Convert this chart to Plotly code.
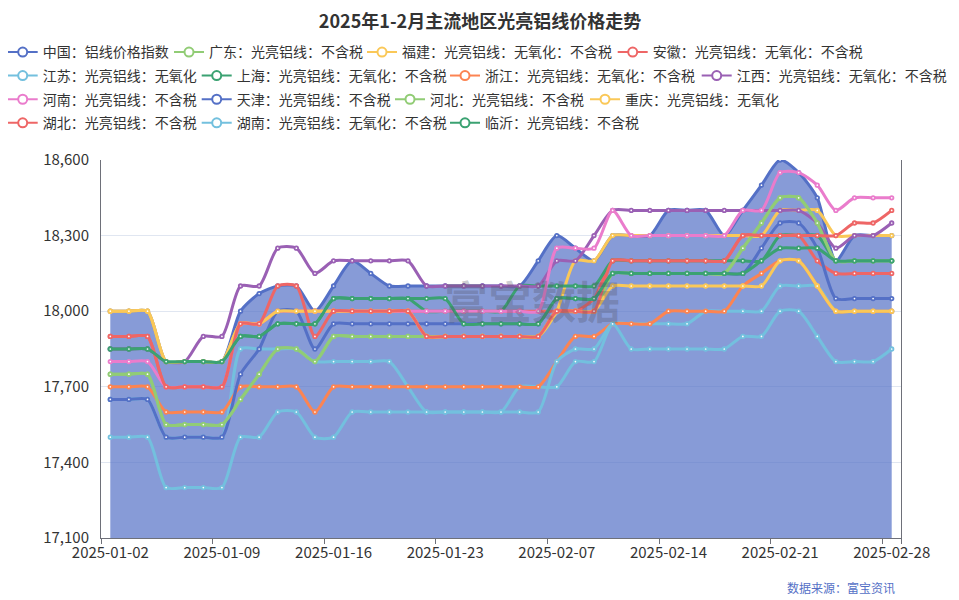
import plotly.graph_objects as go

dates = ["2025-01-02","2025-01-03","2025-01-04","2025-01-06","2025-01-07","2025-01-08","2025-01-09",
         "2025-01-10","2025-01-11","2025-01-13","2025-01-14","2025-01-15","2025-01-16","2025-01-17",
         "2025-01-18","2025-01-20","2025-01-21","2025-01-22","2025-01-23","2025-01-24","2025-01-25",
         "2025-01-27","2025-02-05","2025-02-06","2025-02-07","2025-02-08","2025-02-10","2025-02-11",
         "2025-02-12","2025-02-13","2025-02-14","2025-02-15","2025-02-17","2025-02-18","2025-02-19",
         "2025-02-20","2025-02-21","2025-02-22","2025-02-24","2025-02-25","2025-02-26","2025-02-27",
         "2025-02-28"]
tick_dates = ["2025-01-02","2025-01-09","2025-01-16","2025-01-23","2025-02-07","2025-02-14","2025-02-21","2025-02-28"]

china = [18000]*3 + [17800]*4 + [18000, 18070, 18100, 18100, 18000, 18100, 18200, 18150] + [18100]*7 + \
        [18100, 18200, 18300, 18250, 18200] + [18300]*3 + [18400]*3 + [18300, 18400, 18500, 18600, 18550, 18450, 18200] + [18300]*3
guangdong = [17750]*3 + [17550]*4 + [17650, 17750, 17850, 17850, 17800] + [17900]*12 + [18000]*3 + [18150]*7 + \
            [18250, 18350, 18450, 18450, 18350] + [18200]*4
fujian = [18000]*3 + [17800]*4 + [17950]*2 + [18000]*8 + [17900]*7 + [18000, 18200, 18200] + [18300]*9 + [18400]*3 + [18300]*4
anhui = [17900]*3 + [17700]*4 + [17950]*2 + [18000]*17 + [18050] + [18200]*7 + [18300]*4 + [18200] + [18150]*4
jiangsu = [17650]*3 + [17500]*4 + [17850]*4 + [17800]*5 + [17700] + [17600]*5 + [17700]*3 + [17800]*2 + \
          [17950]*5 + [18000]*4 + [18100]*3 + [18000]*4
shanghai = [17850]*3 + [17800]*4 + [17900]*2 + [17950]*3 + [18050]*5 + [18000]*5 + [18100]*5 + [18200]*9 + [18300]*3 + [18200]*4
zhejiang = [17700]*3 + [17600]*4 + [17700]*4 + [17600] + [17700]*12 + [17800, 17900, 17900] + [17950]*3 + [18000]*4 + \
           [18100, 18150, 18200, 18200, 18100] + [18000]*4
jiangxi = [17850]*3 + [17800]*2 + [17900]*2 + [18100]*2 + [18250]*2 + [18150] + [18200]*5 + [18100]*7 + [18200]*2 + \
          [18300] + [18400]*11 + [18350, 18250, 18300, 18300, 18350]
henan = [17800]*3 + [17700]*4 + [17950]*2 + [18000]*15 + [18250]*3 + [18400] + [18300]*6 + [18400]*2 + [18550]*2 + \
        [18500, 18400] + [18450]*3
tianjin = [17650]*3 + [17500]*4 + [17750, 17850, 18000, 18000, 17850] + [17950]*12 + [18050]*3 + [18150]*8 + \
          [18250, 18350, 18350, 18250] + [18050]*4
hebei = [17750]*3 + [17550]*4 + [17650, 17750, 17850, 17850, 17800] + [17900]*12 + [18000]*3 + [18150]*7 + \
        [18250, 18350, 18450, 18450, 18350] + [18200]*4
chongqing = [18000]*3 + [17800]*4 + [17950]*2 + [18000]*8 + [17900]*7 + [18000]*3 + [18100]*9 + [18200]*2 + [18100] + [18000]*4
hubei = [17900]*3 + [17700]*4 + [17950]*2 + [18100]*2 + [17900] + [18000]*5 + [17900]*7 + [18000]*3 + [18200]*7 + \
        [18300]*6 + [18350]*2 + [18400]
hunan = [17500]*3 + [17300]*4 + [17500]*2 + [17600]*2 + [17500]*2 + [17600]*11 + [17800, 17850, 17850, 17950] + \
        [17850]*6 + [17900]*2 + [18000]*2 + [17900] + [17800]*3 + [17850]
linyi = [17850]*3 + [17800]*4 + [17900]*2 + [17950]*3 + [18050]*7 + [17950]*5 + [18050]*3 + [18150]*8 + [18200] + \
        [18250]*3 + [18200]*4

series_names = ["中国：铝线价格指数", "广东：光亮铝线：不含税", "福建：光亮铝线：无氧化：不含税", "安徽：光亮铝线：无氧化：不含税",
                "江苏：光亮铝线：无氧化", "上海：光亮铝线：无氧化：不含税", "浙江：光亮铝线：无氧化：不含税", "江西：光亮铝线：无氧化：不含税",
                "河南：光亮铝线：不含税", "天津：光亮铝线：不含税", "河北：光亮铝线：不含税", "重庆：光亮铝线：无氧化",
                "湖北：光亮铝线：不含税", "湖南：光亮铝线：无氧化：不含税", "临沂：光亮铝线：不含税"]
series_values = [china, guangdong, fujian, anhui, jiangsu, shanghai, zhejiang, jiangxi,
                 henan, tianjin, hebei, chongqing, hubei, hunan, linyi]
palette = ["#5470c6", "#91cc75", "#fac858", "#ee6666", "#73c0de", "#3ba272", "#fc8452", "#9a60b4", "#ea7ccc"]

# legend layout in page pixels: (text start x, row centre y) for each entry
legend_text_x = [42.7, 209, 402, 652.7,
                 42.7, 236.7, 485, 736.7,
                 42.7, 236.7, 430, 625,
                 42.7, 236.7, 485]
legend_row_y = [52.5]*4 + [76]*4 + [99.7]*4 + [123.3]*3
LEGEND_TEXT_OFFSET = 40

# the page body has an 8px margin: work in page pixels and convert
OFF = 8
PAGE_W, PAGE_H = 959, 600
W, H = PAGE_W - OFF, PAGE_H - OFF
FONT = "Noto Sans CJK SC, Microsoft YaHei, sans-serif"
PL, PR, PT, PB = 101 - OFF, 901 - OFF, 160 - OFF, 537.7 - OFF   # plot area in figure px


def px(xp):
    return (xp - OFF - PL) / (PR - PL)


def py(yp):
    return (PB - (yp - OFF)) / (PB - PT)


fig = go.Figure()
layout_legends = {}
for i, (name, vals) in enumerate(zip(series_names, series_values)):
    color = palette[i % len(palette)]
    kw = {}
    if i == 0:
        kw = dict(fill="tozeroy", fillcolor="rgba(84,112,198,0.7)")
    fig.add_trace(go.Scatter(
        x=dates, y=vals, name=name, mode="lines+markers", showlegend=False,
        line=dict(color=color, width=3, shape="spline", smoothing=0.7),
        marker=dict(symbol="circle", size=3.5, color="white", line=dict(color=color, width=1.8)),
        **kw))
for i, name in enumerate(series_names):
    color = palette[i % len(palette)]
    lg = "legend" if i == 0 else f"legend{i+1}"
    # legend-only entry (no data drawn) so the legend icon matches the reference style
    fig.add_trace(go.Scatter(
        x=[dates[0]], y=[None], name=name, mode="lines+markers", showlegend=True,
        line=dict(color=color, width=2), hoverinfo="skip",
        marker=dict(symbol="circle", size=9, color="white", line=dict(color=color, width=2)),
        legend=lg))
    layout_legends[lg] = dict(
        orientation="h", xref="paper", yref="paper",
        x=px(legend_text_x[i] - LEGEND_TEXT_OFFSET), xanchor="left",
        y=py(legend_row_y[i]), yanchor="middle",
        font=dict(size=14, color="#333", family=FONT),
        bgcolor="rgba(0,0,0,0)", itemwidth=30, itemsizing="trace")

fig.update_layout(
    width=W, height=H,
    margin=dict(l=PL, r=W - PR, t=PT, b=H - PB, pad=0, autoexpand=False),
    paper_bgcolor="white", plot_bgcolor="white",
    font=dict(family=FONT, color="#333"),
    title=dict(text="<b>2025年1-2月主流地区光亮铝线价格走势</b>", x=(480 - OFF) / W, xanchor="center",
               y=1 - (22 - OFF) / H, yanchor="middle", font=dict(size=18, color="#333", family=FONT)),
    xaxis=dict(type="category", categoryorder="array", categoryarray=dates,
               tickmode="array", tickvals=tick_dates, ticktext=tick_dates, tickson="boundaries",
               tickangle=0, ticks="outside", ticklen=5, tickcolor="#6E7079", showline=True,
               linecolor="#6E7079", linewidth=1, showgrid=False, zeroline=False,
               range=[-0.5, len(dates) - 0.5], ticklabelstandoff=1,
               tickfont=dict(size=15, color="#333", family=FONT)),
    yaxis=dict(range=[17100, 18600], dtick=300, tick0=17100, tickformat=",", showgrid=True,
               gridcolor="#E0E6F1", gridwidth=1, showline=True, linecolor="#6E7079", mirror=True,
               zeroline=False, ticks="", tickfont=dict(size=15, color="#333", family=FONT),
               ticklabelstandoff=8),
    annotations=[
        dict(text="<b>富宝数据</b>", x=px(532), y=py(300),
             xref="paper", yref="paper", showarrow=False,
             font=dict(size=44, color="rgba(80,80,95,0.30)", family=FONT)),
        dict(text="数据来源：富宝资讯", x=px(897), y=py(587),
             xref="paper", yref="paper", xanchor="right", yanchor="middle", showarrow=False,
             font=dict(size=12, color="#5470c6", family=FONT)),
    ],
    **layout_legends,
)

fig.write_html("out.html")
